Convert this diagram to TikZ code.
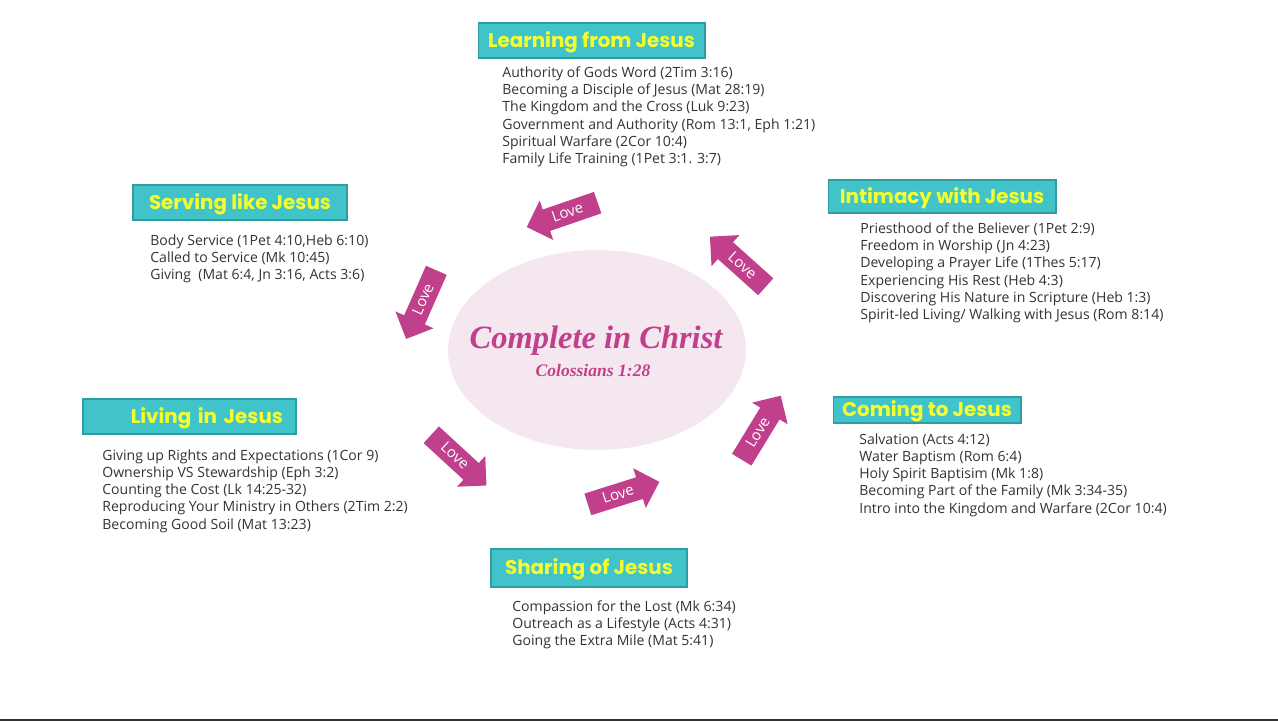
\documentclass[tikz,border=0pt]{standalone}
\usepackage{fontspec}
\setmainfont{Open Sans}
\newfontfamily\headfont{Poppins}
\newfontfamily\corefont{Liberation Serif}
\usetikzlibrary{shapes.arrows,shapes.geometric}
\definecolor{headteal}{HTML}{40C4CA}
\definecolor{headedge}{HTML}{2E9DA2}
\definecolor{headyellow}{HTML}{F6FF2E}
\definecolor{lovepink}{HTML}{C1408B}
\definecolor{corepink}{HTML}{F5E7EF}
\definecolor{listgray}{HTML}{333333}
\tikzset{cchead/.style={draw=headedge,line width=0.6pt,fill=headteal,text=headyellow,
    font=\headfont\bfseries\fontsize{11.3}{13}\selectfont,inner sep=0pt,
    text height=8.2pt,text depth=0.5pt}}
\tikzset{cclist/.style={anchor=north west,align=left,inner sep=0pt,text=listgray,
    font=\fontsize{8}{9.75}\selectfont}}
\tikzset{cclove/.style={single arrow,fill=lovepink,text=white,anchor=tail,
    minimum height=1.5cm,single arrow head extend=0.19cm,single arrow tip angle=90,
    single arrow head indent=0pt,inner xsep=2pt,inner ysep=3pt,
    text height=5.8pt,text depth=0.7pt,font=\fontsize{8.5}{9}\selectfont}}

\begin{document}
\begin{tikzpicture}[x=0.02cm,y=-0.02cm]
  \useasboundingbox (0,0) rectangle (1278,721);

  % centre
  \node (core) [ellipse,fill=corepink,minimum width=5.96cm,minimum height=4cm] at (597,350) {};
  \node (title) [text=lovepink,font=\corefont\bfseries\itshape\fontsize{18.5}{20}\selectfont] at (596,341) {Complete in Christ};
  \node (verse) [text=lovepink,font=\corefont\bfseries\itshape\fontsize{10}{11}\selectfont] at (593,371) {Colossians 1:28};

  % headings
  \node (learn) [cchead,minimum width=4.54cm,minimum height=0.70cm] at (591.5,40.5) {Learning from Jesus};
  \node (serve) [cchead,minimum width=4.28cm,minimum height=0.70cm] at (240,202.5) {Serving like Jesus};
  \node (intim) [cchead,minimum width=4.56cm,minimum height=0.66cm] at (942,196.5) {Intimacy with Jesus};
  \node (live)  [cchead,text width=3.74cm,align=right,inner xsep=0.26cm,minimum height=0.70cm] at (189.5,416.5) {Living in Jesus};
  \node (come)  [cchead,minimum width=3.76cm,minimum height=0.52cm] at (927,410) {Coming to Jesus};
  \node (share) [cchead,minimum width=3.92cm,minimum height=0.76cm] at (589,568) {Sharing of Jesus};

  % lists
  \node (learnlist) [cclist] at (502,66.5) {Authority of Gods Word (2Tim 3:16)\\
    Becoming a Disciple of Jesus (Mat 28:19)\\
    The Kingdom and the Cross (Luk 9:23)\\
    Government and Authority (Rom 13:1, Eph 1:21)\\
    Spiritual Warfare (2Cor 10:4)\\
    Family Life Training (1Pet 3:1. 3:7)};
  \node (servelist) [cclist] at (150,234.5) {Body Service (1Pet 4:10,Heb 6:10)\\
    Called to Service (Mk 10:45)\\
    Giving\ \ (Mat 6:4, Jn 3:16, Acts 3:6)};
  \node (intimlist) [cclist] at (860,222.5) {Priesthood of the Believer (1Pet 2:9)\\
    Freedom in Worship (Jn 4:23)\\
    Developing a Prayer Life (1Thes 5:17)\\
    Experiencing His Rest (Heb 4:3)\\
    Discovering His Nature in Scripture (Heb 1:3)\\
    Spirit-led Living/ Walking with Jesus (Rom 8:14)};
  \node (livelist) [cclist] at (102,449.5) {Giving up Rights and Expectations (1Cor 9)\\
    Ownership VS Stewardship (Eph 3:2)\\
    Counting the Cost (Lk 14:25-32)\\
    Reproducing Your Ministry in Others (2Tim 2:2)\\
    Becoming Good Soil (Mat 13:23)};
  \node (comelist) [cclist] at (859,433.5) {Salvation (Acts 4:12)\\
    Water Baptism (Rom 6:4)\\
    Holy Spirit Baptisim (Mk 1:8)\\
    Becoming Part of the Family (Mk 3:34-35)\\
    Intro into the Kingdom and Warfare (2Cor 10:4)};
  \node (sharelist) [cclist] at (512,600.5) {Compassion for the Lost (Mk 6:34)\\
    Outreach as a Lifestyle (Acts 4:31)\\
    Going the Extra Mile (Mat 5:41)};

  % love arrows
  \coordinate (t1) at (598,202.5);
  \coordinate (t2) at (436.5,270);
  \coordinate (t3) at (766,287);
  \coordinate (t4) at (431,434.5);
  \coordinate (t5) at (587.5,504.5);
  \coordinate (t6) at (741.5,460);
  \node (love1) [cclove,rotate=19,shape border rotate=180] at (t1) {Love};
  \node (love2) [cclove,rotate=66.2,shape border rotate=180] at (t2) {Love};
  \node (love3) [cclove,rotate=-41.9,shape border rotate=180] at (t3) {Love};
  \node (love4) [cclove,rotate=-42.6] at (t4) {Love};
  \node (love5) [cclove,rotate=17.5] at (t5) {Love};
  \node (love6) [cclove,rotate=58.6] at (t6) {Love};

  % bottom rule
  \coordinate (bl) at (0,719.8);
  \coordinate (br) at (1278,719.8);
  \draw [listgray,line width=1.1pt] (bl) -- (br);
\end{tikzpicture}
\end{document}
